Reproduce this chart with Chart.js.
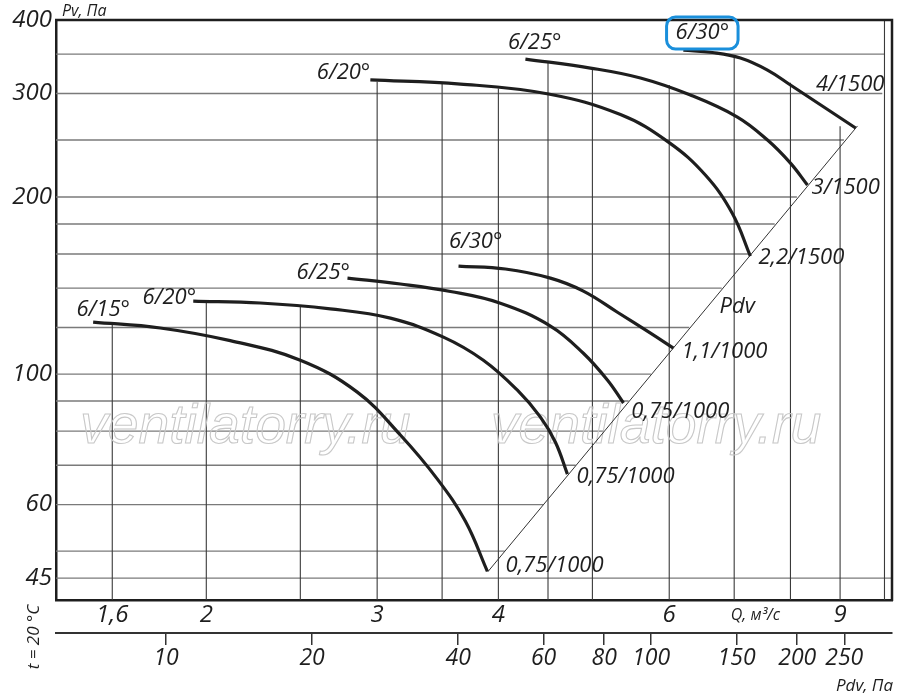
<!DOCTYPE html>
<html>
<head>
<meta charset="utf-8">
<script src="https://cdn.jsdelivr.net/npm/chart.js@4.4.1/dist/chart.umd.min.js"></script>
<style>
body{margin:0;background:#fff}
#box{width:900px;height:695px}
</style>
</head>
<body>
<div id="box"><canvas id="myChart"></canvas></div>
<script>
// fan curves, Q (m3/s) against Pv (Pa)
var q15 = [1.529,1.793,2.117,2.500,2.862,3.170,3.461,3.699,3.897]
var p15 = [122.6,119.8,114.0,105.6,93.2,78.8,66.3,56.2,46.2]
var q20a = [1.939,2.273,2.684,3.096,3.511,3.860,4.185,4.420,4.580,4.712]
var p20a = [133.1,132.1,129.1,124.5,115.6,105.6,93.9,84.5,76.6,67.6]
var q25a = [2.796,3.170,3.570,4.019,4.526,4.894,5.181,5.383]
var p25a = [145.6,142.3,138.2,132.0,120.7,108.5,97.7,89.3]
var q30a = [3.639,4.067,4.526,4.894,5.306,5.739,6.060]
var p30a = [152.6,150.9,145.6,138.4,127.4,117.4,110.7]
var q20b = [2.952,3.656,4.505,5.344,5.989,6.537,6.970,7.274]
var p20b = [316.3,311.3,299.4,276.2,248.0,218.0,187.6,158.7]
var q25b = [4.265,4.976,5.604,6.309,7.054,7.576,8.000,8.329]
var p25b = [343.3,331.4,318.7,298.2,273.6,250.0,228.4,209.6]
var q30b = [6.205,6.647,7.104,7.576,8.000,9.338]
var p30b = [355.6,352.2,344.7,328.8,310.1,262.1]
// Pdv line
var pdvQ = [3.90,9.38]
var pdvP = [46.1,264.2]

// ticks and grid
var pvTicks = [45,60,100,200,300,400]
var qTicks = [1.6,2,3,4,6,9]
var pdvTicks = [10,20,40,60,80,100,150,200,250]
var hGrid = [45,50,60,70,80,90,100,120,140,160,180,200,250,300,350]
var vGrid = [1.6,2,2.5,3,3.5,4,4.5,5,6,7,8,9,10]
var vGridTop = [122.6,133.7,131,314,313,306,339,331,310,345,313,264,400]

var Q_MIN = 1.40, Q_MAX = 10.18, P_MIN = 41.3, P_MAX = 400
var K = 3.026 // Pdv = K * Q^2

// text on the plot: [text, Q, Pv]
var notes = [
  ["6/15°",1.566,128.5],["6/20°",1.832,134.6],["6/25°",2.64,148.5],["6/30°",3.79,167.6],
  ["6/20°",2.77,325.1],["6/25°",4.36,365.6],["6/30°",6.49,380.2],
  ["4/1500",9.22,310],["3/1500",9.12,207.2],["2,2/1500",8.21,157.5],["1,1/1000",6.84,109],
  ["0,75/1000",6.16,86.2],["0,75/1000",5.41,66.8],["0,75/1000",4.57,47.3],["Pdv",7.05,130]
]
var boxed = 6

function pts(qs,ps){
  var out = []
  for(var i=0;i<qs.length;i++){ out.push({x:qs[i],y:ps[i]}) }
  return out
}

function curve(qs,ps){
  return {data:pts(qs,ps), borderColor:"#1e1e1e", borderWidth:3.2, pointRadius:0,
    tension:0.4, fill:false}
}

var FONT = "'Open Sans', sans-serif"

var paper = {
  id:"paper",
  beforeDatasetsDraw:function(chart){
    var ctx = chart.ctx, a = chart.chartArea, xs = chart.scales.x, ys = chart.scales.y
    ctx.save()
    ctx.beginPath(); ctx.rect(a.left,a.top,a.right-a.left,a.bottom-a.top); ctx.clip()
    // horizontal lines, cut at the Pdv line
    ctx.strokeStyle = "#7a7a7a"; ctx.lineWidth = 1.4
    for(var i=0;i<hGrid.length;i++){
      var p = hGrid[i], qEnd = Q_MAX
      if(p >= pdvP[0]) qEnd = Math.min(10, pdvQ[0]*Math.sqrt(p/pdvP[0]))
      var y = ys.getPixelForValue(p)
      ctx.beginPath(); ctx.moveTo(a.left,y); ctx.lineTo(xs.getPixelForValue(qEnd),y); ctx.stroke()
    }
    // vertical lines
    ctx.strokeStyle = "#3a3a3a"; ctx.lineWidth = 1.1
    for(var j=0;j<vGrid.length;j++){
      var x = xs.getPixelForValue(vGrid[j])
      ctx.beginPath(); ctx.moveTo(x,a.bottom); ctx.lineTo(x,ys.getPixelForValue(vGridTop[j])); ctx.stroke()
    }
    // watermark
    ctx.font = "italic 54px 'Liberation Sans', sans-serif"
    var w = ctx.measureText("ventilatorry.ru").width
    ctx.font = "italic " + (54*330/w).toFixed(1) + "px 'Liberation Sans', sans-serif"
    ctx.strokeStyle = "#c8c8c8"; ctx.lineWidth = 1.1
    ctx.textAlign = "left"; ctx.textBaseline = "alphabetic"
    var by = ys.getPixelForValue(76.3)
    ctx.strokeText("ventilatorry.ru", xs.getPixelForValue(1.483), by)
    ctx.strokeText("ventilatorry.ru", xs.getPixelForValue(3.93), by)
    ctx.restore()
  },
  afterDraw:function(chart){
    var ctx = chart.ctx, a = chart.chartArea, xs = chart.scales.x, ys = chart.scales.y
    ctx.save()
    ctx.strokeStyle = "#1e1e1e"; ctx.lineWidth = 2.5
    ctx.beginPath(); ctx.moveTo(a.left-1,a.top); ctx.lineTo(a.right,a.top); ctx.lineTo(a.right,a.bottom+1); ctx.stroke()

    ctx.fillStyle = "#1e1e1e"
    ctx.textAlign = "center"; ctx.textBaseline = "middle"
    ctx.font = "italic 22px " + FONT
    for(var i=0;i<notes.length;i++){
      var x = xs.getPixelForValue(notes[i][1]), y = ys.getPixelForValue(notes[i][2])
      ctx.fillText(notes[i][0], x, y)
      if(i == boxed){
        var w = ctx.measureText(notes[i][0]).width + 18
        ctx.strokeStyle = "#1a8fdb"; ctx.lineWidth = 3
        ctx.beginPath(); ctx.roundRect(x-w/2, y-16, w, 32, 9); ctx.stroke()
      }
    }

    ctx.font = "italic 16px " + FONT
    ctx.textAlign = "left"
    ctx.fillText("Pv, Па", a.left+6, a.top-9)
    ctx.textAlign = "center"
    ctx.fillText("Q, м³/с", xs.getPixelForValue(7.36), a.bottom+15)
    ctx.font = "italic 17px " + FONT
    ctx.textAlign = "right"
    ctx.fillText("Pdv, Па", a.right+1, a.bottom+86)
    ctx.translate(34, a.bottom+37)
    ctx.rotate(-Math.PI/2)
    ctx.textAlign = "center"
    ctx.fillText("t = 20 °C", 0, 0)
    ctx.restore()
  }
}

function comma(v){ return String(v).replace(".", ",") }

new Chart("myChart",{
  type:"line",
  data:{
    datasets:[
      curve(q15,p15), curve(q20a,p20a), curve(q25a,p25a), curve(q30a,p30a),
      curve(q20b,p20b), curve(q25b,p25b), curve(q30b,p30b),
      {data:pts(pdvQ,pdvP), borderColor:"#333", borderWidth:1, pointRadius:0, tension:0, fill:false}
    ]
  },
  options:{
    responsive:true,
    maintainAspectRatio:false,
    animation:false,
    layout:{padding:{top:20,right:8,bottom:22,left:0}},
    plugins:{legend:{display:false}, tooltip:{enabled:false}},
    scales:{
      x:{
        type:"logarithmic", position:"bottom", min:Q_MIN, max:Q_MAX, weight:0,
        afterBuildTicks:function(s){ s.ticks = qTicks.map(function(v){ return {value:v} }) },
        afterFit:function(s){ s.height = 33 },
        ticks:{autoSkip:false, maxRotation:0, padding:3, color:"#1e1e1e",
          font:{family:FONT, size:24, style:"italic", lineHeight:1},
          callback:function(v){ return comma(v) }},
        grid:{display:false, drawTicks:false},
        border:{display:true, color:"#1e1e1e", width:2.5}
      },
      pdv:{
        type:"logarithmic", position:"bottom", min:K*Q_MIN*Q_MIN, max:K*Q_MAX*Q_MAX, weight:1,
        afterBuildTicks:function(s){ s.ticks = pdvTicks.map(function(v){ return {value:v} }) },
        afterFit:function(s){ s.height = 40 },
        ticks:{autoSkip:false, maxRotation:0, padding:2, color:"#1e1e1e",
          font:{family:FONT, size:23, style:"italic", lineHeight:1},
          callback:function(v){ return String(v) }},
        grid:{display:true, drawOnChartArea:false, drawTicks:true, tickLength:12, color:"#333", lineWidth:1.5},
        border:{display:true, color:"#333", width:2}
      },
      y:{
        type:"logarithmic", position:"left", min:P_MIN, max:P_MAX,
        afterBuildTicks:function(s){ s.ticks = pvTicks.map(function(v){ return {value:v} }) },
        afterFit:function(s){ s.width = 56 },
        ticks:{autoSkip:false, padding:4, color:"#1e1e1e",
          font:{family:FONT, size:24, style:"italic", lineHeight:1},
          callback:function(v){ return String(v) }},
        grid:{display:false, drawTicks:false},
        border:{display:true, color:"#1e1e1e", width:2.5}
      }
    }
  },
  plugins:[paper]
})
</script>
</body>
</html>
